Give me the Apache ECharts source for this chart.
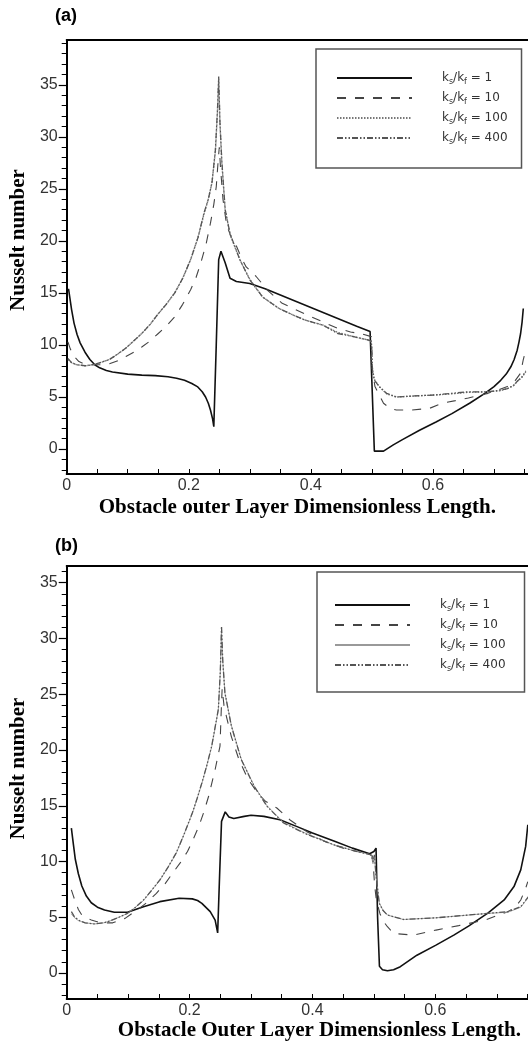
<!DOCTYPE html>
<html>
<head>
<meta charset="utf-8">
<title>Nusselt number</title>
<script src="https://cdn.jsdelivr.net/npm/echarts@6/dist/echarts.min.js"></script>
<style>
  html, body { margin: 0; padding: 0; background: #fff; }
  #main { width: 528px; height: 1044px; }
</style>
</head>
<body>
<div id="main"></div>
<script>
// ratios k_s/k_f shown in the legends
var ratios = ['1', '10', '100', '400'];

// tick labels
var yLabels = [0, 5, 10, 15, 20, 25, 30, 35];
var xLabels = [0, 0.2, 0.4, 0.6];

// (a) Nusselt number along the outer layer, [length, Nu]
var aK1 = [[0.003,15.4],[0.008,13.4],[0.012,12.1],[0.017,11.0],[0.022,10.2],[0.03,9.3],[0.038,8.6],[0.046,8.1],[0.054,7.8],[0.065,7.55],[0.075,7.4],[0.1,7.2],[0.123,7.1],[0.145,7.05],[0.166,6.95],[0.18,6.8],[0.193,6.6],[0.205,6.3],[0.214,6.0],[0.222,5.5],[0.2275,5.0],[0.232,4.4],[0.2355,3.75],[0.239,2.9],[0.241,2.15],[0.245,10],[0.249,18.2],[0.2527,19.0],[0.2596,17.9],[0.2676,16.4],[0.278,16.1],[0.3,15.9],[0.325,15.4],[0.35,14.8],[0.375,14.2],[0.4,13.6],[0.425,13.0],[0.45,12.4],[0.475,11.8],[0.497,11.3],[0.5,11.25],[0.504,-0.2],[0.519,-0.2],[0.535,0.4],[0.55,0.9],[0.578,1.8],[0.605,2.6],[0.631,3.4],[0.66,4.4],[0.685,5.35],[0.7,6.0],[0.711,6.6],[0.72,7.2],[0.7276,7.9],[0.733,8.6],[0.738,9.5],[0.741,10.3],[0.7436,11.1],[0.746,12.2],[0.748,13.5]];
var aK10 = [[0.002,10.3],[0.006,9.6],[0.012,8.9],[0.02,8.4],[0.03,8.15],[0.043,8.1],[0.055,8.1],[0.07,8.2],[0.085,8.5],[0.097,8.9],[0.11,9.3],[0.123,9.8],[0.137,10.4],[0.15,11.1],[0.163,11.8],[0.177,12.7],[0.19,13.9],[0.203,15.3],[0.212,16.5],[0.2195,17.85],[0.228,19.6],[0.2355,21.7],[0.241,23.5],[0.245,25.2],[0.2485,28.0],[0.25,29.0],[0.252,27],[0.256,24],[0.262,21.5],[0.27,20.3],[0.278,19.5],[0.286,18.4],[0.294,17.5],[0.31,16.6],[0.33,15.2],[0.353,14.0],[0.375,13.4],[0.401,12.7],[0.42,12.2],[0.444,11.6],[0.465,11.25],[0.487,11.0],[0.499,10.8],[0.501,7.5],[0.505,6.0],[0.512,5.2],[0.519,4.4],[0.53,3.9],[0.54,3.75],[0.565,3.75],[0.594,3.9],[0.615,4.4],[0.637,4.65],[0.658,4.9],[0.69,5.35],[0.705,5.65],[0.722,6.0],[0.735,6.6],[0.7436,7.3],[0.748,8.6],[0.752,9.5]];
var aK100 = [[0.002,8.6],[0.008,8.3],[0.016,8.1],[0.03,8.0],[0.043,8.1],[0.055,8.3],[0.07,8.6],[0.083,9.1],[0.097,9.7],[0.11,10.4],[0.123,11.1],[0.137,12.0],[0.15,13.0],[0.163,13.9],[0.177,15.0],[0.19,16.4],[0.203,18.2],[0.215,20.3],[0.225,22.6],[0.232,24.0],[0.238,25.6],[0.2436,28.6],[0.247,32.4],[0.249,35.5],[0.251,31.4],[0.254,27.6],[0.2596,23.0],[0.2676,20.6],[0.2836,18.2],[0.3,16.3],[0.321,14.6],[0.348,13.5],[0.37,12.9],[0.39,12.4],[0.42,11.9],[0.444,11.2],[0.47,10.8],[0.492,10.5],[0.499,10.3],[0.501,7.6],[0.504,6.7],[0.512,6.0],[0.524,5.3],[0.54,5.0],[0.57,5.1],[0.605,5.2],[0.63,5.3],[0.658,5.45],[0.69,5.5],[0.71,5.6],[0.722,5.8],[0.732,6.1],[0.738,6.5],[0.746,6.9],[0.752,7.4]];
var aK400 = [[0.002,8.7],[0.008,8.3],[0.016,8.1],[0.03,8.0],[0.043,8.1],[0.055,8.3],[0.07,8.6],[0.083,9.1],[0.097,9.7],[0.11,10.4],[0.123,11.1],[0.137,12.0],[0.15,13.0],[0.163,13.9],[0.177,15.0],[0.19,16.4],[0.203,18.2],[0.215,20.3],[0.225,22.7],[0.232,24.0],[0.238,25.6],[0.2436,28.75],[0.247,32.6],[0.249,35.8],[0.251,31.5],[0.254,27.8],[0.2596,23.0],[0.2676,20.7],[0.2836,18.2],[0.3,16.25],[0.321,14.6],[0.348,13.5],[0.37,12.9],[0.39,12.4],[0.42,11.9],[0.444,11.1],[0.47,10.8],[0.492,10.5],[0.499,10.4],[0.501,7.5],[0.504,6.6],[0.512,6.0],[0.524,5.35],[0.54,5.0],[0.57,5.1],[0.605,5.2],[0.63,5.35],[0.658,5.5],[0.69,5.5],[0.71,5.65],[0.722,5.8],[0.732,6.1],[0.738,6.5],[0.746,6.95],[0.752,7.5]];

// (b)
var bK1 = [[0.0076,13.0],[0.011,11.5],[0.014,10.2],[0.019,8.9],[0.0246,7.8],[0.032,6.9],[0.04,6.3],[0.05,5.9],[0.0616,5.65],[0.0775,5.45],[0.099,5.45],[0.112,5.7],[0.125,5.95],[0.1516,6.4],[0.183,6.7],[0.2044,6.65],[0.213,6.5],[0.22,6.25],[0.2336,5.5],[0.2416,4.75],[0.2457,3.6],[0.249,9],[0.252,13.6],[0.258,14.45],[0.264,14.0],[0.272,13.85],[0.289,14.05],[0.3,14.15],[0.321,14.05],[0.347,13.75],[0.374,13.15],[0.4,12.55],[0.437,11.8],[0.465,11.2],[0.493,10.7],[0.5,10.9],[0.5035,11.2],[0.506,5],[0.509,0.6],[0.514,0.3],[0.522,0.2],[0.532,0.3],[0.543,0.57],[0.57,1.6],[0.601,2.5],[0.63,3.4],[0.654,4.2],[0.686,5.4],[0.712,6.55],[0.728,7.75],[0.739,9.25],[0.747,11.35],[0.7505,13.3]];
var bK10 = [[0.0076,7.45],[0.011,6.9],[0.014,6.4],[0.019,5.7],[0.0246,5.2],[0.04,4.75],[0.055,4.5],[0.075,4.5],[0.095,4.9],[0.1146,5.65],[0.13,6.3],[0.146,7.15],[0.16,8.0],[0.173,9.0],[0.185,9.9],[0.1966,10.9],[0.206,12.0],[0.215,13.15],[0.223,14.4],[0.231,15.85],[0.2416,18.25],[0.2495,20.35],[0.2515,23.5],[0.253,25.5],[0.256,24],[0.26,23],[0.268,21.2],[0.28,19.2],[0.295,17.4],[0.31,16.2],[0.3235,15.4],[0.342,14.8],[0.363,13.75],[0.39,12.7],[0.42,11.8],[0.45,11.2],[0.48,10.8],[0.498,10.5],[0.501,8],[0.504,6.5],[0.51,5.3],[0.516,4.6],[0.522,4.15],[0.532,3.55],[0.564,3.4],[0.601,3.85],[0.638,4.25],[0.681,4.75],[0.718,5.5],[0.73,5.9],[0.739,6.55],[0.747,7.6],[0.7505,8.2]];
var bK100 = [[0.0076,5.3],[0.012,5.0],[0.019,4.7],[0.03,4.5],[0.0457,4.4],[0.06,4.5],[0.072,4.7],[0.085,5.0],[0.099,5.35],[0.112,5.9],[0.125,6.5],[0.138,7.4],[0.1516,8.3],[0.165,9.5],[0.178,10.7],[0.19,12.3],[0.2044,14.3],[0.212,15.6],[0.22,17.0],[0.228,18.6],[0.236,20.3],[0.2468,23.6],[0.25,27],[0.252,30.8],[0.254,28],[0.2575,25.1],[0.268,22.2],[0.284,19.2],[0.305,16.8],[0.326,15.0],[0.353,13.5],[0.39,12.5],[0.4346,11.5],[0.465,11.0],[0.4956,10.6],[0.4985,9.8],[0.501,10.5],[0.503,9],[0.5087,6.3],[0.515,5.6],[0.522,5.2],[0.548,4.8],[0.601,4.95],[0.654,5.2],[0.686,5.35],[0.718,5.45],[0.739,5.9],[0.7516,6.8]];
var bK400 = [[0.0076,5.5],[0.012,5.1],[0.019,4.75],[0.03,4.5],[0.0457,4.4],[0.06,4.5],[0.072,4.7],[0.085,5.0],[0.099,5.35],[0.112,5.9],[0.125,6.55],[0.138,7.4],[0.1516,8.35],[0.165,9.5],[0.178,10.75],[0.19,12.3],[0.2044,14.35],[0.212,15.6],[0.22,17.05],[0.228,18.6],[0.236,20.35],[0.2468,23.65],[0.25,27],[0.252,31.1],[0.254,28],[0.2575,25.15],[0.268,22.15],[0.284,19.15],[0.305,16.75],[0.326,14.95],[0.353,13.45],[0.39,12.45],[0.4346,11.5],[0.465,11.0],[0.4956,10.6],[0.4985,10.0],[0.501,10.6],[0.503,9],[0.5087,6.25],[0.515,5.6],[0.522,5.2],[0.548,4.8],[0.601,4.95],[0.654,5.2],[0.686,5.35],[0.718,5.5],[0.739,5.95],[0.7516,6.85]];

var xMinor = [];
for (var i = 0; i <= 15; i++) xMinor.push(+(i * 0.05).toFixed(2));
var yMinorA = [], yMinorB = [];
for (var j = -2; j <= 39; j++) yMinorA.push(j);
for (var k = -2; k <= 36; k++) yMinorB.push(k);

var chart = echarts.init(document.getElementById('main'), null, {renderer: 'canvas'});

var tickFont = {fontFamily: 'Liberation Sans, Arial, sans-serif', fontSize: 16, color: '#333'};
var nameFont = {fontFamily: 'Liberation Serif, Times New Roman, serif', fontWeight: 'bold', fontSize: 21, color: '#000'};
var blackLine = {color: '#000', width: 2};

function bottomAxis(g, max, name, gap, pad) {
  return {
    type: 'value', gridIndex: g, min: 0, max: max, position: 'bottom',
    axisLine: {onZero: false, lineStyle: blackLine},
    axisTick: {inside: true, length: 5, customValues: xMinor, lineStyle: {color: '#000', width: 1}},
    axisLabel: Object.assign({customValues: xLabels, margin: 4, formatter: function (v) { return String(v); }}, tickFont),
    splitLine: {show: false},
    name: name, nameLocation: 'middle', nameGap: gap,
    nameTextStyle: Object.assign({padding: pad}, nameFont)
  };
}
function topAxis(g, max) {
  return {
    type: 'value', gridIndex: g, min: 0, max: max, position: 'top',
    axisLine: {onZero: false, lineStyle: blackLine},
    axisTick: {show: false}, axisLabel: {show: false}, splitLine: {show: false}
  };
}
function mainY(g, min, max, pad) {
  return {
    type: 'value', gridIndex: g, min: min, max: max, position: 'left',
    axisLine: {show: true, onZero: false, lineStyle: blackLine},
    axisTick: {length: 8, customValues: yLabels, lineStyle: {color: '#000', width: 1.2}},
    axisLabel: Object.assign({customValues: yLabels, margin: 9}, tickFont),
    splitLine: {show: false},
    name: 'Nusselt number', nameLocation: 'middle', nameGap: 30,
    nameTextStyle: Object.assign({padding: pad}, nameFont)
  };
}
function minorY(g, min, max, ticks) {
  return {
    type: 'value', gridIndex: g, min: min, max: max, position: 'left', offset: 0,
    axisLine: {show: false, onZero: false},
    axisTick: {length: 5, customValues: ticks, lineStyle: {color: '#000', width: 1}},
    axisLabel: {show: false}, splitLine: {show: false}
  };
}

var styles = {
  '1':   {color: '#111', width: 1.6, type: 'solid'},
  '10':  {color: '#444', width: 1.1, type: [9, 9]},
  '100a': {color: '#777', width: 1.4, type: [1.5, 1.5]},
  '100b': {color: '#999', width: 0.9, type: 'solid'},
  '400': {color: '#555', width: 1.3, type: [6, 2, 1.5, 2, 1.5, 2]}
};

function line(name, data, xi, yi, style) {
  return {
    name: name, type: 'line', xAxisIndex: xi, yAxisIndex: yi, data: data,
    symbol: 'none', showSymbol: false, lineStyle: style, clip: true,
    color: style.color,
    emphasis: {disabled: true}
  };
}

var legendRich = {
  g: {width: 25},
  t: {fontFamily: 'DejaVu Sans, Verdana, sans-serif', fontSize: 12, color: '#333', lineHeight: 16},
  s: {fontFamily: 'DejaVu Sans, Verdana, sans-serif', fontSize: 8, color: '#333', lineHeight: 6, verticalAlign: 'bottom'}
};
function legendText(name) {
  return '{g| }{t|k}{s|s}{t|/k}{s|f}{t| = ' + name.split(':')[1] + '}';
}
function legend(panel, left, top, pad) {
  return {
    data: ratios.map(function (r) { return panel + ':' + r; }),
    orient: 'vertical', left: left, top: top, padding: pad,
    itemWidth: 75, itemHeight: 14, itemGap: 6,
    itemStyle: {color: 'rgba(0,0,0,0)', borderColor: 'rgba(0,0,0,0)', borderWidth: 0, opacity: 0},
    borderColor: '#555', borderWidth: 1.5, backgroundColor: '#fff',
    selectedMode: false, formatter: legendText,
    textStyle: {rich: legendRich}
  };
}

chart.setOption({
  animation: false,
  backgroundColor: '#fff',
  title: [
    {text: '(a)', left: 55, top: 7, padding: 0, textStyle: {fontFamily: 'Liberation Sans, Arial, sans-serif', fontWeight: 'bold', fontSize: 18, color: '#000'}},
    {text: '(b)', left: 55, top: 537, padding: 0, textStyle: {fontFamily: 'Liberation Sans, Arial, sans-serif', fontWeight: 'bold', fontSize: 18, color: '#000'}}
  ],
  grid: [
    {left: 57, top: 40, right: 0, height: 434},
    {left: 55, top: 566, right: 0, height: 433}
  ],
  xAxis: [
    bottomAxis(0, 0.7557, 'Obstacle outer Layer Dimensionless Length.', 23, [0, 0, 0, 0]),
    topAxis(0, 0.7557),
    bottomAxis(1, 0.7508, 'Obstacle Outer Layer Dimensionless Length.', 21, [0, 0, 0, 44]),
    topAxis(1, 0.7508)
  ],
  yAxis: [
    mainY(0, -2.4, 39.3, [0, 0, 0, 34]),
    minorY(0, -2.4, 39.3, yMinorA),
    mainY(1, -2.33, 36.5, [0, 0, 0, 28]),
    minorY(1, -2.33, 36.5, yMinorB)
  ],
  legend: [
    legend('a', 316, 49, [23, 14, 22, 20]),
    legend('b', 317, 572, [27, 19, 19, 17])
  ],
  series: [
    line('a:1', aK1, 0, 0, styles['1']),
    line('a:10', aK10, 0, 0, styles['10']),
    line('a:100', aK100, 0, 0, styles['100a']),
    line('a:400', aK400, 0, 0, styles['400']),
    line('b:1', bK1, 2, 2, styles['1']),
    line('b:10', bK10, 2, 2, styles['10']),
    line('b:100', bK100, 2, 2, styles['100b']),
    line('b:400', bK400, 2, 2, styles['400'])
  ]
});
</script>
</body>
</html>
